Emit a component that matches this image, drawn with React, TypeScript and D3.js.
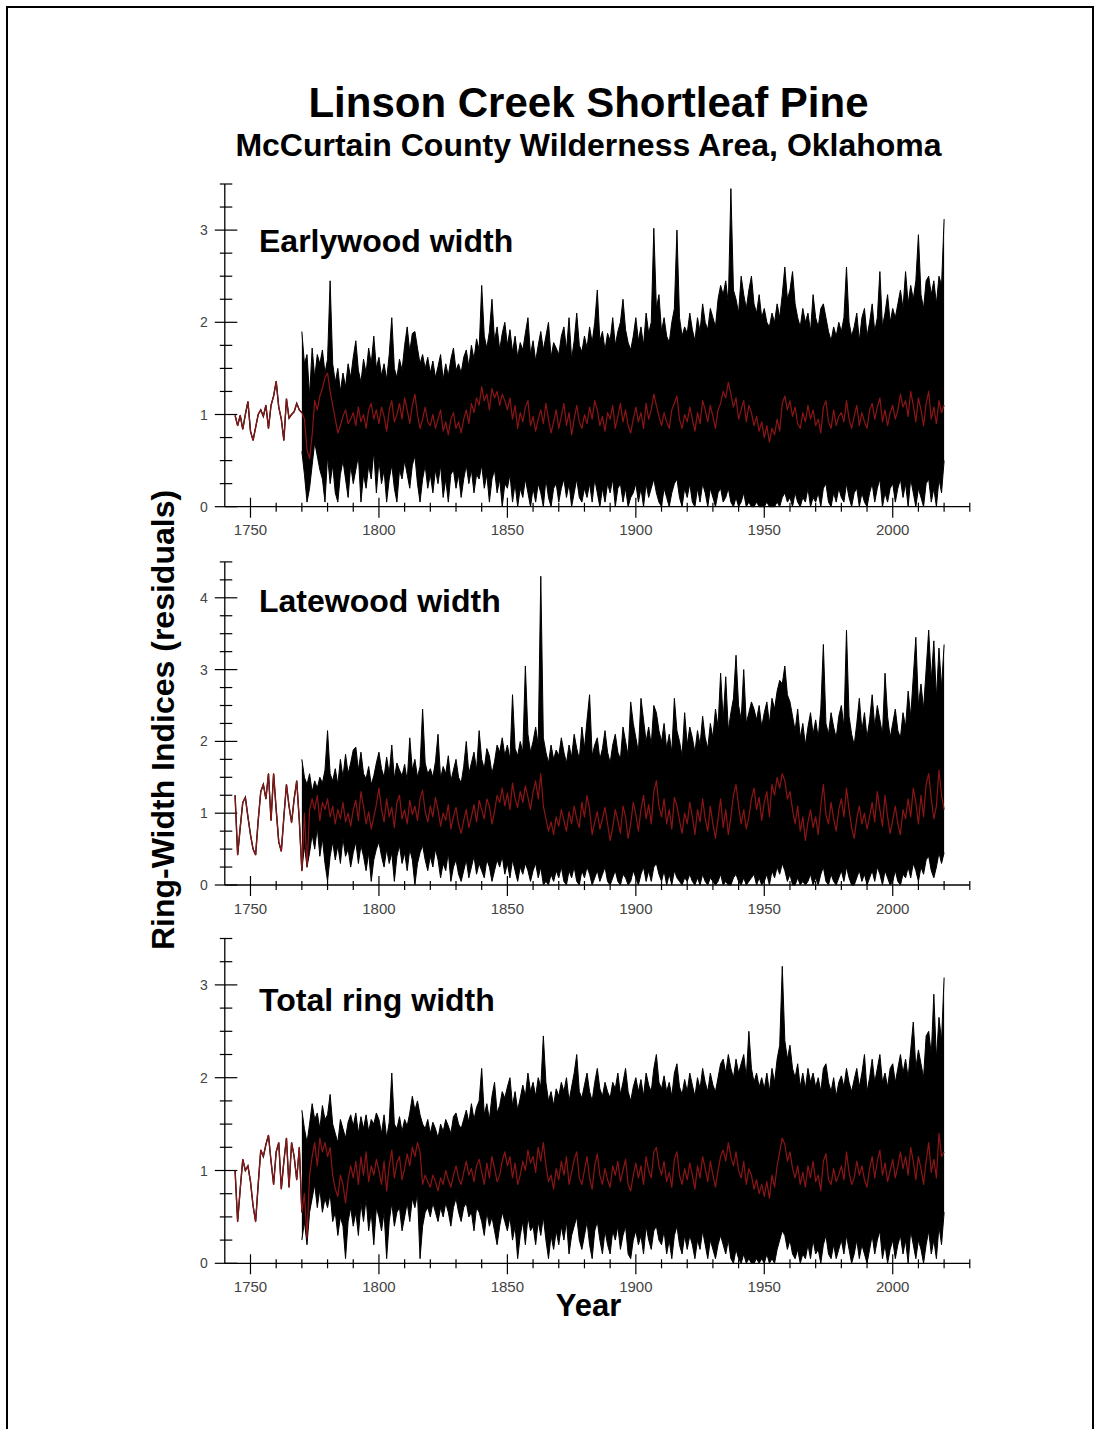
import * as d3 from 'd3';

// ring-width index chronologies
// mean (red) runs 1744-2020, the black envelope of all series starts 1770
const FIRST_YEAR = 1744;
const ENVELOPE_START = 1770;

const ewMean = [
  0.99, 0.88, 0.99, 0.84, 1.0, 1.14,
  0.82, 0.72, 0.86, 1.0, 1.05, 0.98, 1.1, 0.85, 1.1, 1.2,
  1.36, 1.08, 0.95, 0.72, 1.17, 0.96, 1.0, 1.03, 1.12, 1.05,
  1.02, 0.95, 0.62, 0.52, 0.78, 1.15, 1.05, 1.2, 1.28, 1.4,
  1.45, 1.25, 1.1, 0.95, 0.8, 0.88, 0.98, 1.05, 0.9, 0.95,
  1.02, 0.88, 1.08, 0.92, 1.0, 0.85, 1.05, 1.12, 0.95, 1.05,
  0.9, 1.08, 0.98, 0.82, 1.05, 1.15, 0.92, 1.0, 1.12, 0.95,
  1.18, 1.05, 0.9, 1.1, 1.22, 1.0, 0.85, 0.95, 1.08, 0.92,
  0.88, 1.0, 0.85, 0.95, 1.05, 0.82, 0.92, 0.78, 0.95, 1.02,
  0.85, 0.92, 0.8, 0.95, 1.05, 0.9, 1.12, 1.02, 1.18, 1.1,
  1.3, 1.15, 1.22, 1.05, 1.28, 1.18, 1.25, 1.1, 1.22, 1.15,
  1.05, 1.18, 0.95, 1.1, 0.85, 1.02, 0.92, 1.08, 1.15, 0.88,
  0.98, 0.82, 0.95, 1.05, 0.9, 1.12, 0.95, 0.8, 0.92, 1.05,
  0.85, 0.98, 1.12, 0.88, 1.02, 0.78, 0.95, 1.1, 0.92, 0.85,
  1.0, 0.9, 1.08, 0.95, 1.15, 1.05, 0.88, 0.98, 0.82, 1.02,
  0.95, 1.1, 0.85, 0.98, 1.12, 0.92, 1.05, 0.88, 0.8, 0.95,
  1.08, 0.92, 1.02, 0.85, 1.12, 0.95, 1.05, 1.22, 1.1, 0.98,
  0.88, 1.02, 0.92, 0.85, 1.05, 1.12, 1.2, 0.95, 0.85, 1.0,
  0.92, 1.08, 0.95, 0.82, 1.02, 0.9, 1.15, 1.05, 0.92, 1.1,
  0.98, 0.85, 1.05, 1.12, 1.25, 1.18, 1.35, 1.22, 1.08, 1.18,
  0.95, 1.05, 1.15, 0.92, 1.1, 1.02, 0.88, 0.98, 0.82, 0.92,
  0.75, 0.88, 0.7, 0.85, 0.78, 0.95, 0.82, 1.12, 1.2, 1.05,
  1.15, 0.98, 1.08, 0.9, 0.85, 1.02, 0.92, 1.1, 0.95, 1.05,
  0.88, 0.95, 0.8, 1.08, 1.15, 0.92, 0.85, 1.05, 0.88, 0.98,
  1.02, 0.92, 1.15, 0.95, 0.85, 0.98, 1.1, 0.88, 1.02, 0.92,
  0.85, 1.05, 1.12, 0.95, 1.08, 1.18, 0.92, 1.05, 0.88, 1.02,
  1.1, 0.95, 1.05, 1.22, 1.08, 1.15, 0.98, 1.25, 1.1, 0.92,
  1.18, 1.05, 0.88, 1.12, 1.25, 0.95, 1.08, 0.9, 1.15, 1.02,
  1.1,
];

const ewHigh = [
  1.9, 1.55, 1.65, 1.2, 1.72, 1.4, 1.65, 1.55, 1.7, 1.45,
  1.6, 2.45, 1.55, 1.35, 1.5, 1.25, 1.45, 1.3, 1.55, 1.4,
  1.62, 1.8, 1.48, 1.35, 1.6, 1.45, 1.72, 1.55, 1.85, 1.5,
  1.62, 1.42, 1.55, 1.38, 1.65, 2.05, 1.5, 1.4, 1.6, 1.48,
  1.75, 1.95, 1.68, 1.88, 1.9, 1.72, 1.55, 1.65, 1.5, 1.62,
  1.45, 1.58, 1.4, 1.52, 1.65, 1.38, 1.55, 1.42, 1.6, 1.72,
  1.48, 1.55, 1.45, 1.62, 1.7, 1.52, 1.75, 1.6, 1.82, 1.7,
  2.4, 1.85, 1.72, 1.9, 2.25, 1.8, 1.95, 1.7, 1.88, 2.0,
  1.75, 1.92, 1.68, 1.85, 1.62, 1.78, 1.7, 1.88, 2.05, 1.65,
  1.8, 1.58, 1.75, 1.9, 1.7, 1.85, 2.0, 1.62, 1.78, 1.72,
  1.65, 1.85, 1.95, 1.7, 2.05, 1.6, 1.8, 2.1, 1.75, 1.68,
  1.85, 1.72, 1.95, 1.78, 2.0, 2.35, 1.8, 1.9, 1.7, 1.88,
  1.8, 2.05, 1.75, 1.9, 2.0, 2.25, 1.92, 1.78, 1.7, 1.85,
  2.05, 1.8, 1.95, 1.75, 2.1, 1.88, 2.0, 3.02, 2.15, 2.3,
  1.9, 2.05, 1.85, 1.78, 2.0, 2.15, 3.0, 2.05, 1.85, 1.95,
  1.88, 2.1, 1.92, 1.8, 2.05, 1.9, 2.2, 2.0, 1.92, 2.15,
  2.05, 1.95, 2.25, 2.4, 2.3, 2.45, 2.2, 3.45, 2.35, 2.25,
  2.1, 2.5, 2.3, 2.15, 2.35, 2.5, 2.2, 2.1, 2.3, 2.05,
  2.15, 2.0, 1.95, 2.1, 2.0, 2.2, 2.05, 2.3, 2.6, 2.25,
  2.35, 2.55, 2.2, 2.05, 1.95, 2.15, 2.0, 2.1, 1.9, 2.3,
  2.05, 1.95, 2.15, 2.2, 2.05, 1.9, 1.8, 1.95, 1.85, 2.0,
  1.9, 2.05, 2.6, 2.0, 1.85, 1.95, 2.1, 1.8, 2.05, 2.15,
  1.85, 2.0, 2.2, 1.9, 2.05, 2.55, 1.95, 2.1, 2.3, 2.0,
  2.15, 2.05, 2.2, 2.35, 2.15, 2.55, 2.2, 2.4, 2.25, 2.45,
  2.95, 2.3, 2.15, 2.45, 2.5, 2.3, 2.45, 2.2, 2.5, 2.4,
  3.12,
];

const ewLow = [
  0.6, 0.35, 0.05, 0.2, 0.45, 0.7, 0.55, 0.4, 0.3, 0.05,
  0.55, 0.25, 0.45, 0.15, 0.05, 0.35, 0.5, 0.3, 0.1, 0.45,
  0.25, 0.4, 0.55, 0.05, 0.35, 0.2, 0.45, 0.3, 0.6, 0.15,
  0.5, 0.25, 0.4, 0.05, 0.3, 0.45, 0.2, 0.05, 0.4, 0.3,
  0.5, 0.35, 0.2, 0.45, 0.55, 0.25, 0.05, 0.3, 0.45, 0.2,
  0.35, 0.15, 0.4, 0.25, 0.45, 0.1, 0.3, 0.05, 0.35, 0.4,
  0.2, 0.35, 0.1, 0.3, 0.45, 0.25, 0.4, 0.15, 0.35, 0.3,
  0.45, 0.2, 0.35, 0.05, 0.3, 0.4, 0.15, 0.3, 0.0, 0.25,
  0.2, 0.35, 0.05, 0.25, 0.0, 0.2, 0.1, 0.3, 0.15, 0.0,
  0.2, 0.05, 0.25, 0.15, 0.0, 0.3, 0.1, 0.0, 0.2, 0.25,
  0.05, 0.2, 0.3, 0.1, 0.25, 0.0, 0.15, 0.3, 0.1, 0.05,
  0.2, 0.1, 0.25, 0.05, 0.3, 0.15, 0.0, 0.2, 0.05, 0.25,
  0.15, 0.3, 0.0, 0.2, 0.25, 0.05, 0.2, 0.0, 0.1, 0.15,
  0.25, 0.05, 0.2, 0.0, 0.25, 0.1, 0.2, 0.3, 0.15, 0.05,
  0.0, 0.2, 0.1, 0.0, 0.15, 0.25, 0.3, 0.1, 0.0, 0.2,
  0.1, 0.25, 0.05, 0.0, 0.2, 0.05, 0.25, 0.15, 0.0, 0.2,
  0.1, 0.0, 0.15, 0.2, 0.05, 0.1, 0.2, 0.05, 0.0, 0.1,
  0.0, 0.05, 0.15, 0.0, 0.05, 0.0, 0.0, 0.05, 0.0, 0.0,
  0.0, 0.05, 0.0, 0.0, 0.0, 0.05, 0.0, 0.1, 0.15, 0.05,
  0.1, 0.0, 0.15, 0.05, 0.0, 0.1, 0.05, 0.2, 0.0, 0.1,
  0.05, 0.15, 0.0, 0.2, 0.25, 0.05, 0.0, 0.15, 0.05, 0.2,
  0.1, 0.05, 0.25, 0.1, 0.0, 0.15, 0.2, 0.0, 0.15, 0.05,
  0.0, 0.15, 0.25, 0.05, 0.2, 0.3, 0.0, 0.15, 0.05, 0.2,
  0.25, 0.05, 0.2, 0.3, 0.1, 0.25, 0.0, 0.3, 0.15, 0.0,
  0.2, 0.1, 0.0, 0.25, 0.3, 0.05, 0.2, 0.0, 0.3, 0.15,
  0.5,
];

const lwMean = [
  1.25, 0.42, 0.8, 1.15, 1.22, 0.95,
  0.7, 0.5, 0.42, 0.9, 1.3, 1.4, 1.2, 1.55, 0.9, 1.55,
  1.05, 0.6, 0.47, 0.95, 1.4, 1.1, 0.87, 1.2, 1.45, 0.9,
  0.2, 1.0, 0.25, 1.05, 1.2, 1.05, 1.25, 0.9, 1.15, 1.05,
  1.2, 0.95, 1.1, 0.85, 1.05, 0.92, 1.15, 0.88, 1.0, 0.82,
  1.05, 1.18, 0.9, 1.3, 1.1, 0.85, 1.02, 0.78, 0.95, 1.12,
  1.35, 1.05, 0.88, 1.2, 0.95, 1.08, 0.8, 1.15, 1.25, 0.92,
  1.05, 0.85, 1.18, 0.98, 1.1, 0.9, 1.2, 1.32, 1.02, 0.88,
  1.1, 0.95, 1.22, 1.05, 0.82, 1.0, 0.9, 1.12, 0.78, 0.95,
  1.08, 0.85, 0.72, 0.9, 1.05, 0.8, 0.95, 1.12, 0.88, 1.18,
  1.05, 0.92, 1.2, 1.1, 0.85, 1.02, 1.25, 1.15, 1.35, 1.1,
  1.28, 1.05, 1.42, 1.2, 1.08, 1.3, 1.15, 1.38, 1.22, 1.05,
  1.3, 1.45, 1.2, 1.55, 1.1, 0.92, 0.75, 0.88, 0.7, 0.95,
  0.82, 1.05, 0.9, 0.75, 1.02, 0.85, 1.1, 0.92, 0.8, 1.15,
  0.95, 1.25, 1.05, 0.7, 0.88, 1.02, 0.78, 0.92, 1.08, 0.85,
  0.62, 0.8, 1.05, 0.9, 0.72, 1.1, 0.95, 0.65, 0.85, 1.15,
  0.98, 0.75, 1.05, 1.25, 0.92, 1.12, 0.85, 1.3, 1.45, 1.1,
  0.95, 1.2, 0.85, 1.05, 0.78, 1.22, 1.1, 0.9, 0.72, 1.0,
  0.85, 1.15, 0.95, 0.7, 1.05, 0.88, 1.2, 0.92, 0.75, 1.1,
  0.85, 0.65, 0.92, 1.2, 0.8, 1.05, 0.7, 0.95, 1.25, 1.4,
  1.1, 0.85, 1.05, 0.78, 0.95, 1.2, 1.35, 1.05, 1.22, 0.9,
  1.15, 1.3, 0.95, 1.4, 1.25, 1.5, 1.35, 1.55, 1.45, 1.2,
  1.3, 1.05, 0.85, 1.1, 0.75, 0.95, 0.62, 0.88, 1.05, 0.8,
  0.95, 0.7, 1.1, 1.4, 0.98, 0.85, 1.15, 0.92, 0.75, 1.05,
  1.2, 0.95, 1.35, 1.05, 0.8, 0.65, 0.92, 1.1, 0.85, 1.0,
  0.78, 0.95, 1.15, 0.88, 1.3, 1.05, 0.82, 1.25, 0.95, 0.72,
  0.9, 1.1, 0.85, 0.7, 1.05, 0.92, 1.2, 0.95, 1.35, 1.15,
  0.85, 1.25, 0.95, 1.4, 1.55, 1.2, 0.92, 1.1, 1.6, 1.25,
  1.05,
];

const lwHigh = [
  1.75, 1.5, 1.4, 1.55, 1.3, 1.45, 1.35, 1.5, 1.42, 1.6,
  2.15, 1.55, 1.45, 1.62, 1.4, 1.75, 1.5, 1.82, 1.55, 1.7,
  1.88, 1.92, 1.6, 1.85, 1.55, 1.48, 1.65, 1.4, 1.52, 1.7,
  1.85, 1.62, 1.5, 1.78, 1.55, 1.95, 1.48, 1.7, 1.6, 1.52,
  1.68, 1.45, 2.05, 1.6, 1.75, 1.5, 1.65, 2.45, 1.7, 1.55,
  1.62, 1.5, 1.72, 2.1, 1.48, 1.65, 1.55, 1.8, 1.45, 1.6,
  1.75, 1.5, 1.42, 1.65, 2.0, 1.55, 1.7, 1.85, 1.6, 2.15,
  1.75, 1.62, 1.9, 1.8, 1.55, 1.72, 1.95, 1.85, 2.05, 1.8,
  1.95, 1.75, 2.65, 1.9, 1.8, 2.0, 1.85, 3.05, 2.1, 1.85,
  2.0, 2.2, 1.95, 4.3, 2.05, 1.85, 1.7, 1.95, 1.75, 1.88,
  1.8, 2.05, 1.85, 1.7, 1.95, 1.78, 2.1, 1.9, 1.75, 2.2,
  1.9, 2.3, 2.65, 1.8, 1.95, 2.05, 1.75, 1.9, 2.15, 1.85,
  1.7, 1.95, 2.1, 1.85, 1.75, 2.2, 2.0, 1.8, 2.55, 2.25,
  2.05, 1.85, 2.6, 2.3, 2.0, 2.2, 1.95, 2.5, 2.4, 2.15,
  2.0, 2.25, 1.9, 2.1, 1.85, 2.6, 2.15, 2.0, 1.8, 2.4,
  1.95, 2.2, 2.05, 1.85, 2.15, 1.95, 2.35, 2.05, 1.9, 2.25,
  2.05, 2.45, 2.2, 2.95, 2.3, 2.9, 2.15, 2.4, 2.6, 3.2,
  2.5, 2.3, 3.0, 2.25, 2.4, 2.55, 2.45, 2.3, 2.5, 2.2,
  2.4, 2.55, 2.25, 2.6, 2.45, 2.7, 2.85, 2.8, 3.05, 2.65,
  2.55, 2.35, 2.15, 2.45, 2.05, 2.25, 1.95, 2.2, 2.4, 2.1,
  2.3, 2.05, 2.45, 3.35, 2.25, 2.1, 2.4, 2.2, 2.05, 2.35,
  2.5, 2.2, 3.55, 2.35, 2.1, 1.95, 2.25, 2.6, 2.15, 2.4,
  2.05, 2.3, 2.65, 2.2, 2.5, 2.3, 2.1, 2.95, 2.35, 2.05,
  2.25, 2.45, 2.15, 2.05, 2.4, 2.2, 2.7, 2.35, 2.9, 3.45,
  2.5, 2.8, 2.45, 3.0, 3.55, 2.85, 3.4, 2.6, 3.3, 2.75,
  3.35,
];

const lwLow = [
  0.2, 0.55, 0.25, 0.45, 0.7, 0.5, 0.8, 0.4, 0.65, 0.3,
  0.05, 0.4, 0.6, 0.35, 0.55, 0.3, 0.65, 0.4, 0.5, 0.25,
  0.45, 0.6, 0.3, 0.55, 0.4, 0.2, 0.45, 0.05, 0.35, 0.5,
  0.6, 0.4, 0.25, 0.5, 0.3, 0.45, 0.05, 0.4, 0.55, 0.3,
  0.45, 0.2, 0.5, 0.35, 0.0, 0.3, 0.45, 0.55, 0.35, 0.2,
  0.4, 0.25, 0.5, 0.35, 0.1, 0.3, 0.2, 0.45, 0.05, 0.25,
  0.35, 0.15, 0.05, 0.2, 0.35, 0.1, 0.25, 0.4, 0.15, 0.3,
  0.2, 0.1, 0.35, 0.25, 0.05, 0.2, 0.35, 0.25, 0.4, 0.15,
  0.3, 0.1, 0.35, 0.2, 0.05, 0.25, 0.15, 0.3, 0.2, 0.05,
  0.2, 0.3, 0.1, 0.25, 0.0, 0.05, 0.0, 0.15, 0.05, 0.2,
  0.1, 0.25, 0.05, 0.0, 0.2, 0.1, 0.25, 0.05, 0.0, 0.2,
  0.1, 0.25, 0.15, 0.0, 0.1, 0.2, 0.05, 0.15, 0.25, 0.05,
  0.0, 0.1, 0.2, 0.05, 0.0, 0.15, 0.1, 0.0, 0.05, 0.2,
  0.1, 0.0, 0.15, 0.25, 0.05, 0.2, 0.05, 0.25, 0.3, 0.15,
  0.05, 0.2, 0.0, 0.15, 0.0, 0.2, 0.1, 0.05, 0.0, 0.1,
  0.05, 0.15, 0.05, 0.0, 0.1, 0.0, 0.15, 0.05, 0.0, 0.1,
  0.05, 0.0, 0.05, 0.15, 0.0, 0.05, 0.0, 0.0, 0.1, 0.15,
  0.05, 0.0, 0.1, 0.0, 0.05, 0.1, 0.15, 0.0, 0.1, 0.0,
  0.05, 0.15, 0.0, 0.2, 0.1, 0.25, 0.15, 0.3, 0.2, 0.05,
  0.15, 0.0, 0.0, 0.1, 0.0, 0.05, 0.0, 0.05, 0.15, 0.0,
  0.1, 0.0, 0.15, 0.25, 0.05, 0.0, 0.15, 0.05, 0.0, 0.1,
  0.2, 0.05, 0.25, 0.1, 0.0, 0.0, 0.1, 0.2, 0.05, 0.15,
  0.0, 0.1, 0.2, 0.05, 0.25, 0.15, 0.0, 0.2, 0.1, 0.0,
  0.05, 0.2, 0.05, 0.0, 0.15, 0.1, 0.25, 0.1, 0.3, 0.2,
  0.05, 0.25, 0.15, 0.35, 0.4, 0.2, 0.1, 0.25, 0.45, 0.3,
  0.45,
];

const rwMean = [
  1.0, 0.45, 0.8, 1.12, 1.0, 1.05,
  0.88, 0.62, 0.45, 0.85, 1.22, 1.15, 1.28, 1.38, 1.1, 0.85,
  1.2, 1.3, 0.8, 1.1, 1.35, 0.82, 1.3, 1.15, 0.9, 1.25,
  0.55, 0.75, 0.28, 0.95, 1.15, 1.3, 1.05, 1.35, 1.2, 1.3,
  1.15, 1.25, 0.95, 0.8, 0.72, 0.95, 0.85, 0.65, 0.9, 1.05,
  0.92, 1.1, 0.85, 1.15, 0.95, 1.2, 0.88, 1.05, 0.95, 1.12,
  1.0, 0.85, 1.1, 0.78, 1.05, 1.22, 0.92, 1.08, 1.15, 0.9,
  1.02, 1.18, 1.05, 1.25, 1.15, 1.3, 1.2, 0.85, 0.95, 0.88,
  0.82, 0.95, 0.88, 0.78, 0.92, 0.85, 1.0, 0.9, 0.82, 0.95,
  1.05, 0.92, 0.85, 0.98, 1.1, 0.95, 1.02, 0.88, 1.05, 1.12,
  0.98, 0.85, 1.08, 0.92, 1.15, 1.02, 0.88, 0.95, 1.1, 1.2,
  1.05, 1.15, 0.92, 1.08, 0.85, 0.95, 1.1, 1.0, 1.22, 1.08,
  1.15, 0.98, 1.25, 1.1, 1.3, 1.05, 0.88, 0.95, 0.8, 1.02,
  0.9, 1.1, 0.95, 1.15, 0.85, 0.98, 1.12, 1.2, 0.92, 0.85,
  1.0, 1.15, 0.92, 0.8, 1.05, 1.18, 0.95, 0.85, 1.02, 0.9,
  0.82, 1.05, 0.95, 1.1, 0.88, 1.0, 1.12, 0.85, 0.78, 0.95,
  1.08, 0.92, 1.05, 0.85, 1.15, 1.0, 0.92, 1.2, 1.25, 1.05,
  0.95, 1.1, 0.88, 0.98, 0.82, 1.12, 1.2, 0.95, 0.85, 1.02,
  0.9, 1.08, 0.95, 0.8, 1.05, 0.92, 1.15, 1.02, 0.88, 1.1,
  0.95, 0.82, 1.0, 1.15, 1.22, 1.1, 1.3, 1.15, 1.05, 1.2,
  1.0, 0.92, 1.1, 0.85, 1.02, 0.95, 0.8, 0.9, 0.75, 0.85,
  0.72, 0.88, 0.7, 0.95, 0.82, 1.05, 1.2, 1.35, 1.28, 1.1,
  1.2, 1.02, 0.92, 1.05, 0.85, 0.98, 0.82, 1.05, 0.92, 1.1,
  0.88, 0.95, 0.78, 1.1, 1.18, 0.9, 0.85, 1.02, 0.88, 0.95,
  1.05, 0.9, 1.2, 0.98, 0.85, 0.92, 1.1, 0.95, 1.05, 0.9,
  0.82, 1.02, 1.15, 0.92, 1.1, 1.22, 0.95, 1.08, 0.88, 1.0,
  1.12, 0.92, 1.05, 1.2, 1.02, 1.15, 0.95, 1.25, 1.1, 0.9,
  1.15, 1.02, 0.85, 1.1, 1.3, 0.98, 1.12, 0.92, 1.4, 1.15,
  1.2,
];

const rwHigh = [
  1.65, 1.45, 1.3, 1.5, 1.72, 1.55, 1.62, 1.45, 1.7, 1.55,
  1.6, 1.82, 1.5, 1.4, 1.3, 1.55, 1.45, 1.35, 1.52, 1.6,
  1.48, 1.62, 1.4, 1.58, 1.45, 1.6, 1.42, 1.55, 1.5, 1.62,
  1.55, 1.4, 1.6, 1.35, 1.52, 2.05, 1.5, 1.45, 1.58, 1.42,
  1.55, 1.48, 1.62, 1.8, 1.65, 1.75, 1.6, 1.5, 1.45, 1.55,
  1.4, 1.52, 1.45, 1.35, 1.5, 1.42, 1.55, 1.48, 1.4, 1.58,
  1.62, 1.5, 1.45, 1.55, 1.65, 1.52, 1.72, 1.55, 1.68, 1.75,
  2.1, 1.6, 1.72, 1.55, 1.8, 1.95, 1.62, 1.7, 1.85, 1.78,
  1.9, 2.0, 1.7, 1.85, 1.65, 1.78, 1.92, 1.8, 2.05, 1.85,
  1.95, 1.8, 2.0, 1.9, 2.45, 1.95, 1.75, 1.85, 1.7, 1.88,
  1.8, 1.95, 1.85, 2.0, 1.75, 1.9, 2.05, 2.25, 1.85, 1.78,
  1.92, 2.05, 1.85, 1.75, 1.95, 2.1, 1.88, 1.8, 1.95, 1.85,
  1.78, 1.95, 1.88, 2.05, 1.82, 1.95, 2.1, 1.85, 1.75, 1.9,
  2.0, 1.85, 1.98, 1.8, 2.05, 1.92, 1.85, 2.1, 2.25, 1.95,
  1.88, 2.02, 1.85, 1.95, 1.8, 2.05, 2.15, 1.9, 1.82, 1.98,
  1.85, 2.05, 1.92, 1.8, 2.0, 1.88, 2.1, 1.95, 1.85, 2.05,
  1.92, 1.85, 2.0, 2.15, 2.2, 2.05, 2.25, 2.1, 2.0, 2.2,
  2.05, 2.15, 2.25, 2.0, 2.5, 2.1, 1.95, 2.05, 1.9, 2.0,
  1.88, 2.05, 1.85, 2.1, 1.95, 2.2, 2.35, 3.2, 2.4, 2.2,
  2.35, 2.1, 2.0, 2.15, 1.9, 2.05, 1.88, 2.1, 1.95, 2.05,
  1.9, 2.0, 1.85, 2.1, 2.15, 1.95, 1.85, 2.0, 1.8, 1.95,
  2.02, 1.9, 2.1, 1.95, 1.85, 1.98, 2.1, 1.9, 2.05, 2.25,
  1.85, 2.0, 2.2, 1.95, 2.1, 2.25, 1.95, 2.05, 1.9, 2.1,
  2.15, 1.95, 2.1, 2.25, 2.05, 2.2, 2.0, 2.3, 2.6, 2.1,
  2.3, 2.15, 2.0, 2.45, 2.5, 2.25, 2.9, 2.2, 2.65, 2.4,
  3.08,
];

const rwLow = [
  0.25, 0.45, 0.2, 0.55, 0.7, 0.85, 0.6, 0.8, 0.55, 0.7,
  0.6, 0.75, 0.45, 0.55, 0.3, 0.5, 0.4, 0.05, 0.45, 0.6,
  0.4, 0.55, 0.3, 0.65, 0.45, 0.7, 0.35, 0.55, 0.2, 0.6,
  0.5, 0.35, 0.55, 0.05, 0.45, 0.65, 0.4, 0.55, 0.6, 0.35,
  0.5, 0.65, 0.45, 0.7, 0.6, 0.75, 0.05, 0.4, 0.55, 0.6,
  0.5, 0.65, 0.55, 0.45, 0.6, 0.5, 0.65, 0.55, 0.4, 0.6,
  0.7, 0.55, 0.45, 0.6, 0.65, 0.5, 0.55, 0.35, 0.6, 0.55,
  0.45, 0.3, 0.55, 0.4, 0.5, 0.35, 0.2, 0.4, 0.55, 0.45,
  0.35, 0.5, 0.25, 0.4, 0.05, 0.3, 0.45, 0.2, 0.5, 0.35,
  0.4, 0.2, 0.45, 0.3, 0.5, 0.25, 0.05, 0.3, 0.15, 0.35,
  0.2, 0.4, 0.25, 0.45, 0.1, 0.3, 0.4, 0.5, 0.25, 0.15,
  0.3, 0.45, 0.2, 0.05, 0.35, 0.45, 0.25, 0.1, 0.35, 0.2,
  0.1, 0.35, 0.25, 0.4, 0.15, 0.3, 0.4, 0.1, 0.05, 0.25,
  0.35, 0.2, 0.3, 0.1, 0.4, 0.25, 0.15, 0.35, 0.4, 0.25,
  0.2, 0.35, 0.1, 0.25, 0.05, 0.3, 0.4, 0.2, 0.1, 0.3,
  0.15, 0.3, 0.2, 0.05, 0.25, 0.15, 0.35, 0.2, 0.05, 0.25,
  0.15, 0.05, 0.2, 0.3, 0.2, 0.1, 0.25, 0.05, 0.0, 0.15,
  0.05, 0.0, 0.1, 0.0, 0.05, 0.0, 0.0, 0.05, 0.0, 0.05,
  0.0, 0.1, 0.0, 0.05, 0.0, 0.15, 0.25, 0.35, 0.3, 0.15,
  0.25, 0.1, 0.05, 0.15, 0.0, 0.1, 0.05, 0.2, 0.05, 0.25,
  0.1, 0.15, 0.0, 0.2, 0.3, 0.1, 0.05, 0.2, 0.05, 0.15,
  0.25, 0.1, 0.3, 0.15, 0.0, 0.1, 0.25, 0.05, 0.2, 0.1,
  0.0, 0.15, 0.3, 0.1, 0.25, 0.35, 0.05, 0.2, 0.0, 0.15,
  0.25, 0.05, 0.2, 0.3, 0.1, 0.25, 0.0, 0.35, 0.2, 0.05,
  0.25, 0.15, 0.0, 0.2, 0.35, 0.1, 0.25, 0.05, 0.4, 0.2,
  0.55,
];

const yearTicks = [1750, 1800, 1850, 1900, 1950, 2000];

const FONT = '"Liberation Sans", Arial, Helvetica, sans-serif';
const RED = '#8c1616';

// shared year axis for the three stacked panels
const x = d3.scaleLinear().domain([1740, 2030]).range([224.8, 969.8]);

type PanelProps = {
  label: string;
  mean: number[];
  high: number[];
  low: number[];
  yMax: number;
  bottom: number;
  top: number;
  labelY: number;
};

function Panel({ label, mean, high, low, yMax, bottom, top, labelY }: PanelProps) {
  const y = d3.scaleLinear().domain([0, yMax]).range([bottom, top]);
  const x0 = x(1740);

  const meanPts: [number, number][] = mean.map((v, i) => [FIRST_YEAR + i, v]);
  const env = high.map((v, i) => ({ year: ENVELOPE_START + i, hi: v, lo: low[i] }));

  const line = d3
    .line<[number, number]>()
    .x((d) => x(d[0]))
    .y((d) => y(d[1]));
  const area = d3
    .area<{ year: number; hi: number; lo: number }>()
    .x((d) => x(d.year))
    .y0((d) => y(d.lo))
    .y1((d) => y(d.hi));
  const hiLine = d3
    .line<{ year: number; hi: number; lo: number }>()
    .x((d) => x(d.year))
    .y((d) => y(d.hi));
  const loLine = d3
    .line<{ year: number; hi: number; lo: number }>()
    .x((d) => x(d.year))
    .y((d) => y(d.lo));

  // before 1770 only one series exists, so the black line is the chronology itself
  const early = meanPts.filter((d) => d[0] <= ENVELOPE_START);

  const minorY = d3.range(0, yMax + 0.001, 0.25).filter((v) => v % 1 !== 0);
  const majorY = d3.range(0, Math.floor(yMax) + 1);
  const minorX = d3.range(1750, 2031, 10).filter((v) => v % 50 !== 0);

  return (
    <g>
      {/* axes */}
      <line x1={x0} x2={x0} y1={bottom} y2={y(yMax)} stroke="#000" strokeWidth={1.3} />
      <line x1={x0} x2={x(2030)} y1={bottom} y2={bottom} stroke="#000" strokeWidth={1.3} />
      {minorY.map((v) => (
        <line key={'my' + v} x1={x0 - 5} x2={x0 + 7.5} y1={y(v)} y2={y(v)} stroke="#000" strokeWidth={1.2} />
      ))}
      {majorY.map((v) => (
        <g key={'My' + v}>
          <line x1={x0 - 10} x2={x0 + 12.5} y1={y(v)} y2={y(v)} stroke="#000" strokeWidth={1.2} />
          <text x={x0 - 17} y={y(v) + 5} textAnchor="end" fontSize={14} fontFamily={FONT} fill="#444">
            {v}
          </text>
        </g>
      ))}
      {minorX.map((v) => (
        <line key={'mx' + v} x1={x(v)} x2={x(v)} y1={bottom - 4} y2={bottom + 5} stroke="#000" strokeWidth={1.2} />
      ))}
      {yearTicks.map((v) => (
        <g key={'Mx' + v}>
          <line x1={x(v)} x2={x(v)} y1={bottom - 9} y2={bottom + 11} stroke="#000" strokeWidth={1.2} />
          <text x={x(v)} y={bottom + 28.5} textAnchor="middle" fontSize={15} fontFamily={FONT} fill="#444">
            {v}
          </text>
        </g>
      ))}

      {/* all series: envelope of the black lines */}
      <path d={area(env) ?? ''} fill="#000" />
      <path d={hiLine(env) ?? ''} fill="none" stroke="#000" strokeWidth={1} />
      <path d={loLine(env) ?? ''} fill="none" stroke="#000" strokeWidth={1} />
      <path d={line(early) ?? ''} fill="none" stroke="#000" strokeWidth={1.4} />

      {/* mean chronology */}
      <path d={line(meanPts) ?? ''} fill="none" stroke={RED} strokeWidth={1.2} strokeLinejoin="round" />

      <text x={259} y={labelY} fontSize={32} fontWeight="bold" fontFamily={FONT} fill="#000">
        {label}
      </text>
    </g>
  );
}

export default function App() {
  return (
    <svg
      width={1101}
      height={1429}
      viewBox="0 0 1101 1429"
      style={{ position: 'absolute', left: 0, top: 0, display: 'block', background: '#fff' }}
    >
      <rect x={7} y={7} width={1086} height={1450} fill="#fff" stroke="#000" strokeWidth={2} />

      <text x={588.5} y={117} textAnchor="middle" fontSize={42} fontWeight="bold" fontFamily={FONT}>
        Linson Creek Shortleaf Pine
      </text>
      <text x={588.5} y={156} textAnchor="middle" fontSize={32} fontWeight="bold" fontFamily={FONT}>
        McCurtain County Wilderness Area, Oklahoma
      </text>

      <Panel label="Earlywood width" mean={ewMean} high={ewHigh} low={ewLow} yMax={3.5} bottom={506.7} top={184} labelY={252} />
      <Panel label="Latewood width" mean={lwMean} high={lwHigh} low={lwLow} yMax={4.5} bottom={885} top={561.9} labelY={612} />
      <Panel label="Total ring width" mean={rwMean} high={rwHigh} low={rwLow} yMax={3.5} bottom={1263.3} top={938.5} labelY={1011} />

      <text
        transform="translate(174,720) rotate(-90)"
        textAnchor="middle"
        fontSize={32}
        fontWeight="bold"
        fontFamily={FONT}
      >
        Ring-Width Indices (residuals)
      </text>
      <text x={588.5} y={1316} textAnchor="middle" fontSize={31} fontWeight="bold" fontFamily={FONT}>
        Year
      </text>
    </svg>
  );
}
